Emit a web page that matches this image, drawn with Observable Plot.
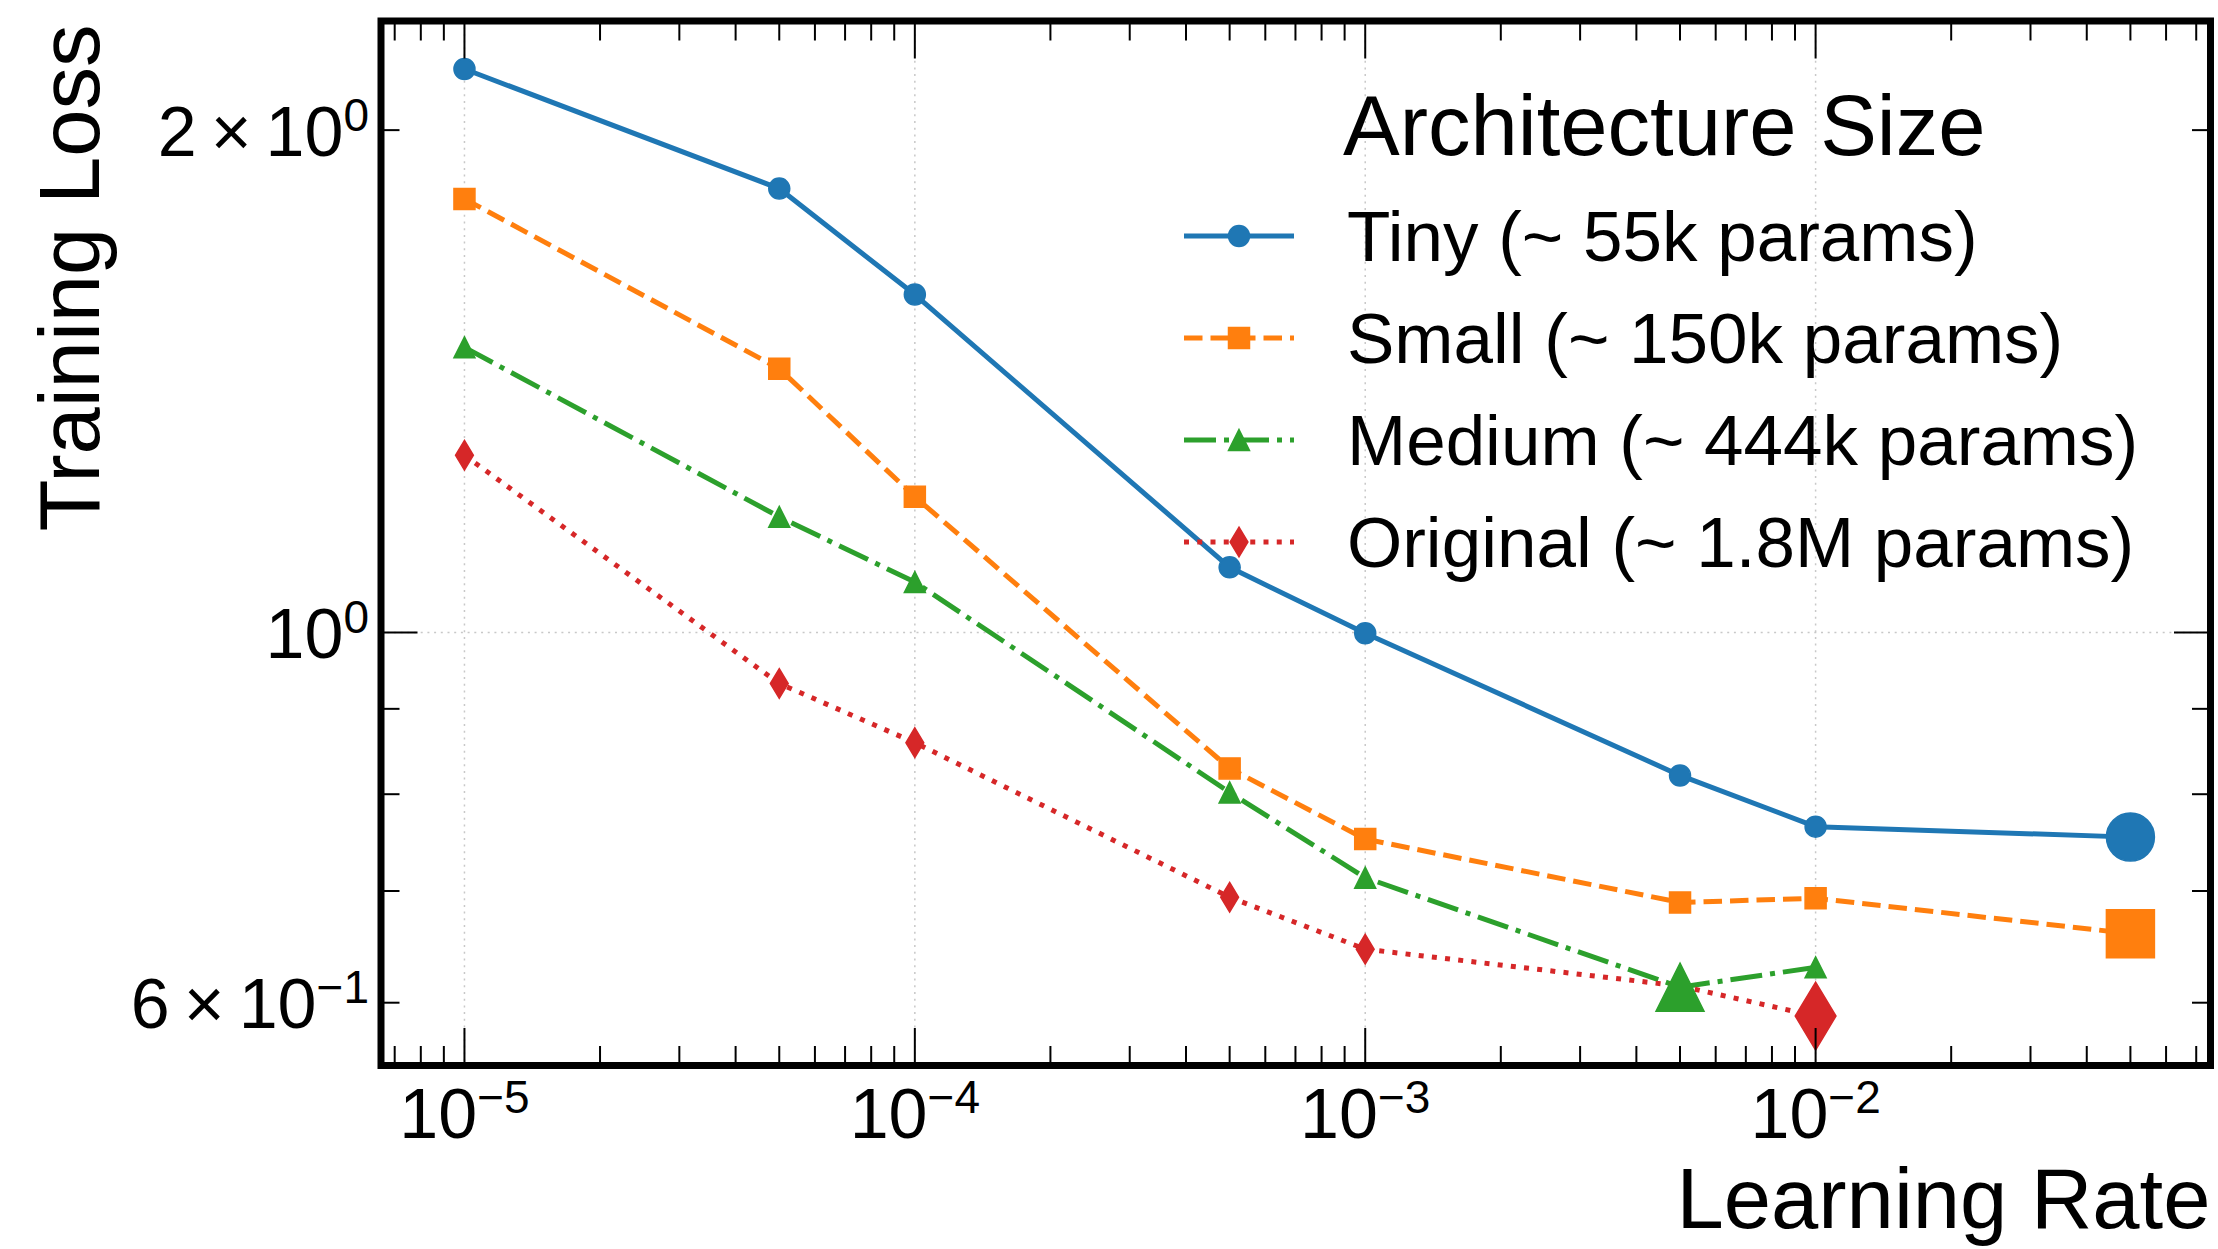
<!DOCTYPE html>
<html>
<head>
<meta charset="utf-8">
<script src="https://cdn.jsdelivr.net/npm/d3@7"></script>
<script src="https://cdn.jsdelivr.net/npm/@observablehq/plot@0.6"></script>
<style>
  html, body { margin: 0; padding: 0; background: #ffffff; }
  #chart svg { display: block; }
</style>
</head>
<body>
<div id="chart"></div>
<script>
// ---------------- data ----------------
const learningRates = [1e-5, 5e-5, 1e-4, 5e-4, 1e-3, 5e-3, 1e-2, 5e-2];
const seriesNames = [
  "Tiny (~ 55k params)",
  "Small (~ 150k params)",
  "Medium (~ 444k params)",
  "Original (~ 1.8M params)"
];
const tinyLoss     = [2.176, 1.845, 1.594, 1.094, 0.999, 0.821, 0.765, 0.754];
const smallLoss    = [1.819, 1.439, 1.206, 0.829, 0.752, 0.689, 0.693, 0.660];
const mediumLoss   = [1.482, 1.173, 1.072, 0.802, 0.713, 0.613, 0.630, null];
const originalLoss = [1.277, 0.932, 0.859, 0.694, 0.646, 0.614, 0.589, null];

const xMajorTicks = [1e-5, 1e-4, 1e-3, 1e-2];
const xTickLabels = ["10^\u22125", "10^\u22124", "10^\u22123", "10^\u22122"];
const xMinorTicks = [7e-6, 8e-6, 9e-6,
  2e-5, 3e-5, 4e-5, 5e-5, 6e-5, 7e-5, 8e-5, 9e-5,
  2e-4, 3e-4, 4e-4, 5e-4, 6e-4, 7e-4, 8e-4, 9e-4,
  2e-3, 3e-3, 4e-3, 5e-3, 6e-3, 7e-3, 8e-3, 9e-3,
  2e-2, 3e-2, 4e-2, 5e-2, 6e-2, 7e-2];
const yMajorTicks = [1];
const yMinorTicks = [0.6, 0.7, 0.8, 0.9, 2];
const yLabelTicks = [0.6, 1, 2];
const yTickLabels = ["6\u2009\u00d7\u200910^\u22121", "10^0", "2\u2009\u00d7\u200910^0"];

const xTitle = "Learning Rate";
const yTitle = "Training Loss";
const legendTitle = "Architecture Size";

// ---------------- styles ----------------
const FONT = "'Liberation Sans', Arial, Helvetica, sans-serif";
const seriesColors = ["#1f77b4", "#ff7f0e", "#2ca02c", "#d62728"];
const LW = 5;
const seriesDash = [undefined, "18.5,8", "32,8,5,8", "5,8.25"];

const symCircle = {draw(ctx, size) { const r = Math.sqrt(size / Math.PI); ctx.moveTo(r, 0); ctx.arc(0, 0, r, 0, 2 * Math.PI); ctx.closePath(); }};
const symSquare = {draw(ctx, size) { const r = Math.sqrt(size / Math.PI); ctx.moveTo(-r, -r); ctx.lineTo(r, -r); ctx.lineTo(r, r); ctx.lineTo(-r, r); ctx.closePath(); }};
const symTriangle = {draw(ctx, size) { const r = Math.sqrt(size / Math.PI); ctx.moveTo(0, -r); ctx.lineTo(r, r); ctx.lineTo(-r, r); ctx.closePath(); }};
const symThinDiamond = {draw(ctx, size) { const r = Math.sqrt(size / Math.PI); const h = r * Math.SQRT2, w = 0.6 * h; ctx.moveTo(0, -h); ctx.lineTo(w, 0); ctx.lineTo(0, h); ctx.lineTo(-w, 0); ctx.closePath(); }};
const seriesSymbols = [symCircle, symSquare, symTriangle, symThinDiamond];

// ---------------- table ----------------
const lossBySeries = [tinyLoss, smallLoss, mediumLoss, originalLoss];
const rows = seriesNames.flatMap((name, i) =>
  learningRates.map((lr, j) => ({series: name, index: i, lr, loss: lossBySeries[i][j]}))
    .filter(d => d.loss != null));

const W = 2218, H = 1249;
const marks = [];

// grid
const gridStyle = {stroke: "#c8c8c8", strokeOpacity: 1, strokeWidth: 1.5, strokeDasharray: "2,4.7"};
marks.push(Plot.gridX(xMajorTicks, gridStyle));
marks.push(Plot.gridY(yMajorTicks, gridStyle));

// series lines + markers
seriesNames.forEach((name, i) => {
  const d = rows.filter(r => r.index === i);
  const lineOpts = {x: "lr", y: "loss", stroke: seriesColors[i], strokeWidth: LW, strokeLinecap: "butt", strokeLinejoin: "round"};
  if (seriesDash[i]) lineOpts.strokeDasharray = seriesDash[i];
  marks.push(Plot.line(d, lineOpts));
  marks.push(Plot.dot(d, {x: "lr", y: "loss", symbol: seriesSymbols[i], r: 10.5, fill: seriesColors[i], stroke: seriesColors[i], strokeWidth: 1.5}));
});

// best (lowest loss) marker for each series
seriesNames.forEach((name, i) => {
  const best = d3.least(rows.filter(r => r.index === i), r => r.loss);
  marks.push(Plot.dot([best], {x: "lr", y: "loss", symbol: seriesSymbols[i], r: 24, fill: seriesColors[i], stroke: seriesColors[i], strokeWidth: 1.5}));
});

// inward ticks on all four sides
const tickCommon = {label: null, tickFormat: () => "", strokeWidth: 2, stroke: "black"};
for (const anchor of ["bottom", "top"]) {
  marks.push(Plot.axisX({...tickCommon, anchor, ticks: xMajorTicks, tickSize: -37}));
  marks.push(Plot.axisX({...tickCommon, anchor, ticks: xMinorTicks, tickSize: -19}));
}
for (const anchor of ["left", "right"]) {
  marks.push(Plot.axisY({...tickCommon, anchor, ticks: yMajorTicks, tickSize: -37}));
  marks.push(Plot.axisY({...tickCommon, anchor, ticks: yMinorTicks, tickSize: -19}));
}

// tick labels
marks.push(Plot.axisX({anchor: "bottom", ticks: xMajorTicks, tickSize: 0, tickPadding: 23, label: null,
  tickFormat: d => xTickLabels[xMajorTicks.indexOf(d)], fontSize: 70, fill: "black"}));
marks.push(Plot.axisY({anchor: "left", ticks: yLabelTicks, tickSize: 0, tickPadding: 12, label: null, dy: 3,
  tickFormat: d => yTickLabels[yLabelTicks.indexOf(d)], fontSize: 70, fill: "black"}));

// axis titles
marks.push(Plot.text([xTitle], {text: d => d, frameAnchor: "bottom-right", textAnchor: "end", fontSize: 85, dy: 162, fill: "black"}));
marks.push(Plot.text([yTitle], {text: d => d, frameAnchor: "top-left", textAnchor: "end", rotate: -90, fontSize: 85, dx: -342, dy: 3.5, fill: "black"}));

// frame
marks.push(Plot.frame({stroke: "black", strokeWidth: 7}));

const chart = Plot.plot({
  width: W,
  height: H,
  marginLeft: 380.5,
  marginRight: 8,
  marginTop: 20.5,
  marginBottom: 184,
  style: {fontFamily: FONT, background: "#ffffff", color: "black"},
  x: {type: "log", domain: [Math.pow(10, -5.1853), Math.pow(10, -1.1232)]},
  y: {type: "log", domain: [0.5502, 2.325]},
  marks
});

document.getElementById("chart").appendChild(chart);

// superscripts in tick labels
const svg = d3.select(chart);
svg.selectAll('g[aria-label="x-axis tick label"] text, g[aria-label="y-axis tick label"] text').each(function() {
  const t = this.textContent;
  if (!t || t.indexOf("^") < 0) return;
  const [base, sup] = t.split("^");
  const el = d3.select(this);
  el.text(null);
  el.append("tspan").text(base);
  el.append("tspan").attr("dy", -25).attr("font-size", 46).text(sup);
});

// legend (no frame, transparent)
const lg = svg.append("g").attr("font-family", FONT).attr("fill", "black").attr("text-anchor", "start");
lg.append("text").attr("x", 1343).attr("y", 155).attr("font-size", 85).text(legendTitle);
seriesNames.forEach((name, i) => {
  const base = 261 + i * 102, cy = base - 25;
  const ln = lg.append("line").attr("x1", 1184).attr("x2", 1294).attr("y1", cy).attr("y2", cy)
    .attr("stroke", seriesColors[i]).attr("stroke-width", LW).attr("stroke-linecap", "butt");
  if (seriesDash[i]) ln.attr("stroke-dasharray", seriesDash[i]);
  lg.append("path").attr("transform", `translate(1239,${cy})`)
    .attr("d", d3.symbol(seriesSymbols[i], Math.PI * 10.5 * 10.5)())
    .attr("fill", seriesColors[i]).attr("stroke", seriesColors[i]).attr("stroke-width", 1.5);
  lg.append("text").attr("x", 1347).attr("y", base).attr("font-size", 71).text(name);
});
</script>
</body>
</html>
